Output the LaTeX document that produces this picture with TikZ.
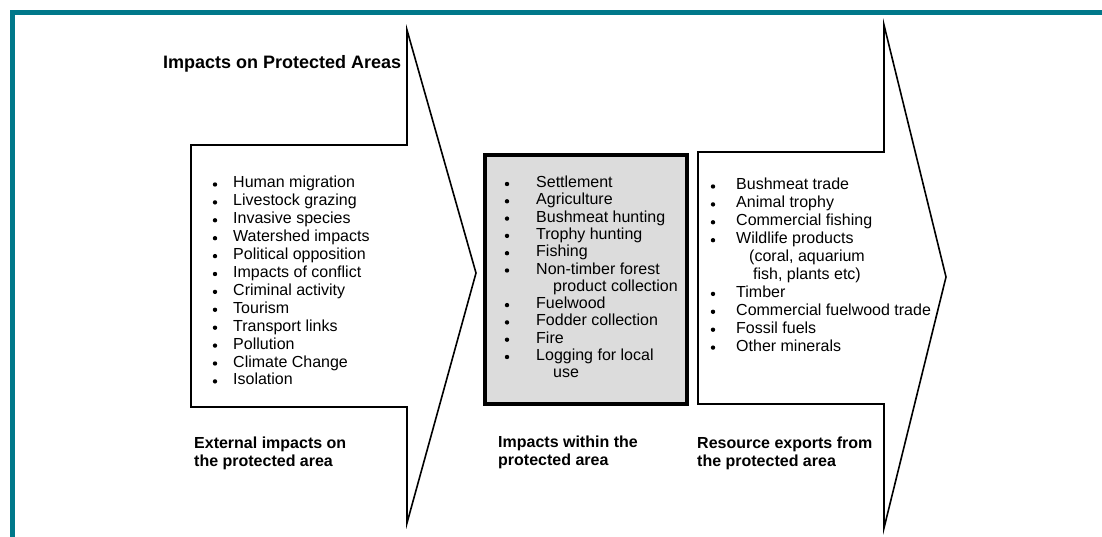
\documentclass[tikz,border=0pt]{standalone}
\usepackage{fontspec}
\setmainfont{Liberation Sans}
\definecolor{frameteal}{HTML}{00788A}
\definecolor{boxgray}{HTML}{DCDCDC}
\begin{document}
\begin{tikzpicture}[x=1pt,y=-1pt,
  item/.style={anchor=base west,inner sep=0pt,font=\fontsize{16}{18}\selectfont},
  label/.style={anchor=base west,inner sep=0pt,font=\bfseries\fontsize{16}{18}\selectfont,align=left},
  blockarrow/.style={draw=black,line width=1.6pt,fill=white,line join=miter},
  bul/.style={fill=black}]
\useasboundingbox (0,0) rectangle (1102,537);
% frame
\fill[frameteal] (10,10) rectangle (1102,15);
\fill[frameteal] (10,10) rectangle (15,537);
% left block arrow
\draw[blockarrow] (191,145) -- (407,145) -- (407,30) -- (476,273) -- (407,523) -- (407,407) -- (191,407) -- cycle;
% right block arrow
\draw[blockarrow] (698,152) -- (884,152) -- (884,25) -- (946,277) -- (884,528) -- (884,404) -- (698,404) -- cycle;
% middle box
\draw[line width=4pt,fill=boxgray] (485,155) rectangle (687,404);
% title
\node[anchor=base west,inner sep=0pt,font=\bfseries\fontsize{18}{20}\selectfont] (title) at (163,68.5) {Impacts on Protected Areas};
% left list
\foreach \t [count=\i] in {Human migration,Livestock grazing,Invasive species,Watershed impacts,Political opposition,Impacts of conflict,Criminal activity,Tourism,Transport links,Pollution,Climate Change,Isolation}{
  \node[item] (L\i) at (233,{188+(\i-1)*17.9}) {\t};
  \fill[bul] (215,{184.5+(\i-1)*17.9}) circle (2.2pt);
}
% middle list
\foreach \t/\xx/\b [count=\i] in {Settlement/536/1,Agriculture/536/1,Bushmeat hunting/536/1,Trophy hunting/536/1,Fishing/536/1,Non-timber forest/536/1,product collection/553/0,Fuelwood/536/1,Fodder collection/536/1,Fire/536/1,Logging for local/536/1,use/553/0}{
  \node[item] (M\i) at (\xx,{187.5+(\i-1)*17.3}) {\t};
  \ifnum\b=1 \fill[bul] (507,{184+(\i-1)*17.3}) circle (2.2pt);\fi
}
% right list
\foreach \t/\xx/\b [count=\i] in {Bushmeat trade/736/1,Animal trophy/736/1,Commercial fishing/736/1,Wildlife products/736/1,{(coral, aquarium}/749/0,{fish, plants etc)}/753/0,Timber/736/1,Commercial fuelwood trade/736/1,Fossil fuels/736/1,Other minerals/736/1}{
  \node[item] (R\i) at (\xx,{190+(\i-1)*17.9}) {\t};
  \ifnum\b=1 \fill[bul] (713,{186.5+(\i-1)*17.9}) circle (2.2pt);\fi
}
% bottom labels (base anchor = last line baseline)
\node[label] (ext) at (194,466) {External impacts on\\the protected area};
\node[label] (within) at (498,465) {Impacts within the\\protected area};
\node[label] (exp) at (697,466) {Resource exports from\\the protected area};
\end{tikzpicture}
\end{document}
